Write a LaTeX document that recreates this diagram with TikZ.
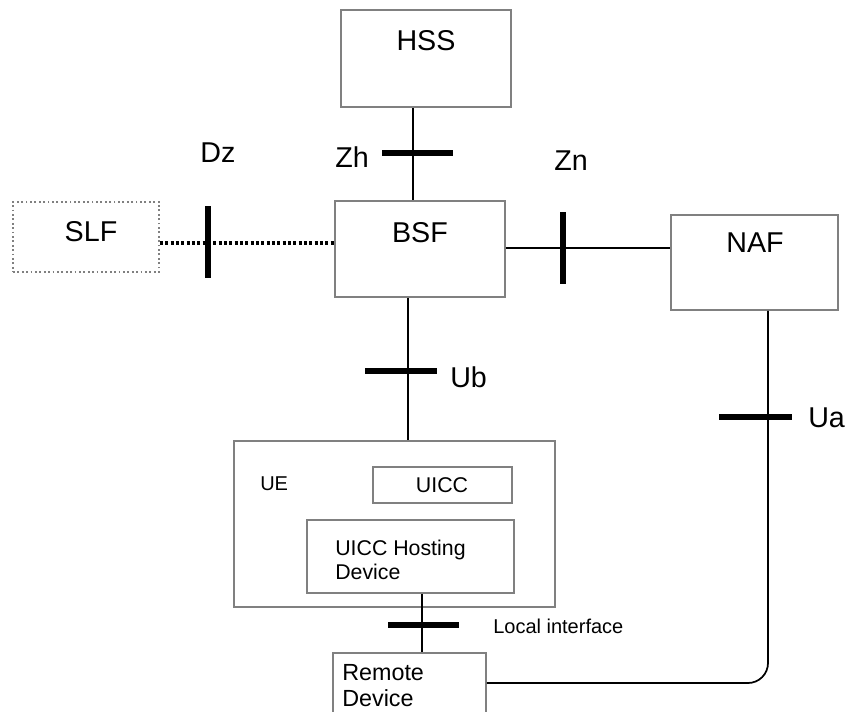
\documentclass[tikz,border=0pt]{standalone}
\usepackage{fontspec}
\setmainfont{Liberation Sans}
\usetikzlibrary{fit}
\tikzset{
  box/.style={draw=black!50, line width=1.3pt, inner sep=0pt},
  slfbox/.style={box, dotted, line width=1.4pt},
  link/.style={line width=1.3pt},
  dzlink/.style={line width=2.4pt, dash pattern=on 2.4pt off 1.6pt},
  bar/.style={line width=4.5pt},
}
\tikzstyle{big}=[font=\fontsize{21.5}{26}\selectfont, inner sep=0pt]
\tikzstyle{small}=[font=\fontsize{16}{18}\selectfont, inner sep=0pt]

\begin{document}
\begin{tikzpicture}[x=0.75pt,y=-0.75pt]
    \useasboundingbox (0,0) rectangle (846,711);
    % boxes
    \node[box, fit={(341,10) (511,107)}] (hss) {};
    \node[box, fit={(335,201) (505,297)}] (bsf) {};
    \node[slfbox, fit={(13,202) (159,272)}] (slf) {};
    \node[box, fit={(671,215) (838,310)}] (naf) {};
    \node[box, fit={(234,441) (555,607)}] (ue) {};
    \node[box, fit={(373,467) (512,503)}] (uicc) {};
    \node[box, fit={(307,520) (514,593)}] (host) {};
    \node[box, fit={(333,653) (486,740)}] (remote) {};
    % texts
    \node[big] (hsstext) at (426,41) {HSS};
    \node[big] (bsftext) at (420,233) {BSF};
    \node[big] (slftext) at (91,232) {SLF};
    \node[big] (naftext) at (755,243) {NAF};
    \node[big, anchor=east] (zhtext) at (369,157) {Zh};
    \node[big] (dztext) at (218,153) {Dz};
    \node[big] (zntext) at (571,161) {Zn};
    \node[big, anchor=west] (ubtext) at (450,377) {Ub};
    \node[big, anchor=west] (uatext) at (808,418) {Ua};
    \node[small, anchor=west, font=\fontsize{15}{18}\selectfont] (uetext) at (260,484) {UE};
    \node[small] (uicctext) at (442,485) {UICC};
    \node[small, anchor=north west, align=left] (hosttext) at (335,540) {UICC Hosting\\Device};
    \node[font=\fontsize{17.5}{19.5}\selectfont, inner sep=0pt, anchor=north west, align=left]
      (remotetext) at (342,664) {Remote\\Device};
    \node[font=\fontsize{15}{18}\selectfont, inner sep=0pt, anchor=west] (localtext) at (493,626) {Local interface};
    % reference points of the links
    \coordinate (zhx) at (413,0);
    \coordinate (ubx) at (408,0);
    \coordinate (locx) at (422,0);
    \coordinate (dzy) at (0,243);
    \coordinate (zny) at (0,248);
    \coordinate (uacorner) at (768,683);
    % links
    \draw[link] (hss.south -| zhx) -- (bsf.north -| zhx);
    \draw[dzlink] (slf.east |- dzy) -- (bsf.west |- dzy);
    \draw[link] (bsf.east |- zny) -- (naf.west |- zny);
    \draw[link] (bsf.south -| ubx) -- (ue.north -| ubx);
    \draw[link] (host.south -| locx) -- (remote.north -| locx);
    \draw[link, rounded corners=15pt] (naf.south -| uacorner) -- (uacorner) -- (remote.east |- uacorner);
    % interface bars
    \draw[bar] (382,153) -- (453,153);
    \draw[bar] (208,206) -- (208,278);
    \draw[bar] (563,212) -- (563,284);
    \draw[bar] (365,371) -- (437,371);
    \draw[bar] (719,417) -- (792,417);
    \draw[bar] (388,625) -- (459,625);
\end{tikzpicture}
\end{document}
